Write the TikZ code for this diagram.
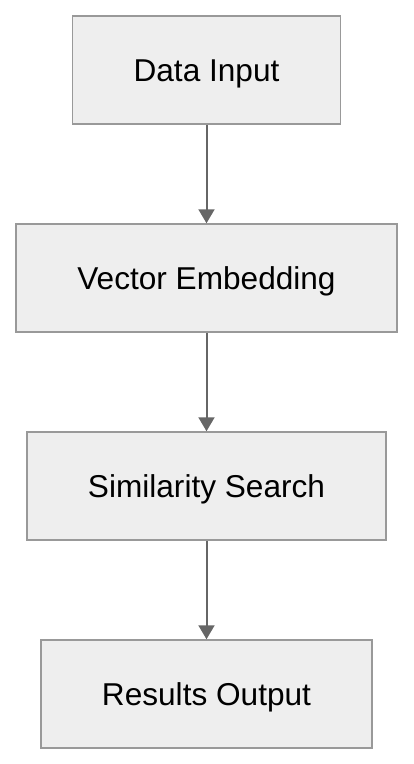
\documentclass[tikz,border=0pt]{standalone}
\usepackage{fontspec}
\setmainfont{Liberation Sans}
\usetikzlibrary{arrows.meta}
\definecolor{boxfill}{HTML}{EEEEEE}
\definecolor{boxline}{HTML}{999999}
\definecolor{arrowcol}{HTML}{666666}
\begin{document}
\begin{tikzpicture}[x=1pt,y=-1pt,
  stepbox/.style={draw=boxline, fill=boxfill, line width=1.5pt, rectangle,
    minimum height=108pt, inner sep=0pt, text height=22.6pt, text depth=0pt,
    font=\fontsize{31.6}{36}\selectfont, text=black},
  flow/.style={draw=arrowcol, line width=2pt, -{Triangle[width=16pt,length=14pt]}}]
\useasboundingbox (0,0) rectangle (414,764);
\node[stepbox, minimum width=268pt] (a) at (206.5,70) {Data Input};
\node[stepbox, minimum width=381pt] (b) at (206.5,278) {Vector Embedding};
\node[stepbox, minimum width=359pt] (c) at (206.5,486) {Similarity Search};
\node[stepbox, minimum width=331pt] (d) at (206.5,694) {Results Output};
\draw[flow] (a) -- (b);
\draw[flow] (b) -- (c);
\draw[flow] (c) -- (d);
\end{tikzpicture}
\end{document}
